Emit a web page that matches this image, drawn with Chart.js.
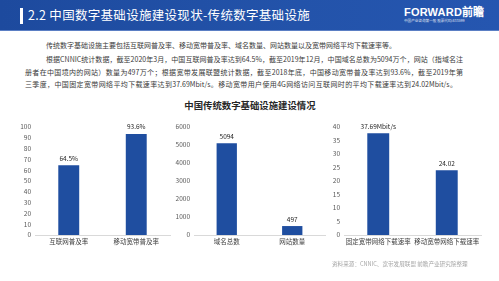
<!DOCTYPE html>
<html lang="zh-CN">
<head>
<meta charset="utf-8">
<title>中国传统数字基础设施建设情况</title>
<script src="https://cdn.jsdelivr.net/npm/chart.js"></script>
<style>
  html, body { margin: 0; padding: 0; background: #fff; }
  body { width: 499px; height: 281px; position: relative; overflow: hidden;
         font-family: "Noto Sans CJK SC", "Noto Sans", sans-serif; }
  .header { position: absolute; left: 0; top: 0; width: 499px; height: 30px;
            background: linear-gradient(90deg, #1d4a9e 0%, #2353aa 60%, #2556b0 100%);
            border-bottom: 1px solid #5b7fc4; }
  .header .mark { position: absolute; left: 20px; top: 8px; width: 3px; height: 16px; background: #fff; }
  .header .title { position: absolute; left: 28px; top: 6px; color: #fff; font-size: 12.5px;
                   line-height: 18px; letter-spacing: 0.3px; white-space: nowrap; }
  .logo { position: absolute; left: 404px; top: 6px; color: #fff; font-family: "Liberation Sans", sans-serif;
          font-weight: bold; font-size: 11px; line-height: 12px; letter-spacing: 0.2px; white-space: nowrap; }
  .logo small { display: block; font-family: "Noto Sans CJK SC", sans-serif; font-weight: normal;
                font-size: 3.6px; line-height: 6px; letter-spacing: 0; opacity: 0.85; }
  .line { position: absolute; font-size: 7px; line-height: 10px; color: #3a3a3a;
          white-space: nowrap; text-align: justify; text-align-last: justify; }
  .heading { position: absolute; left: 150px; top: 98px; width: 200px; text-align: center;
             font-size: 9.4px; font-weight: bold; color: #262626; line-height: 14px; }
  canvas { position: absolute; }
  .source { position: absolute; left: 332px; top: 260px; font-size: 5.6px; color: #a6a6a6;
            white-space: nowrap; line-height: 8px; }
</style>
</head>
<body>
<div class="header">
  <div class="mark"></div>
  <div class="title">2.2 中国数字基础设施建设现状-传统数字基础设施</div>
</div>
<div class="logo">FORWARD前瞻<small>中国产业咨询第一股 股票代码:833599</small></div>

<div class="line" style="left:46px; top:40px; width:287px;">传统数字基础设施主要包括互联网普及率、移动宽带普及率、域名数量、网站数量以及宽带网络平均下载速率等。</div>
<div class="line" style="left:46px; top:54px; width:417px;">根据CNNIC统计数据，截至2020年3月，中国互联网普及率达到64.5%，截至2019年12月，中国域名总数为5094万个，网站（指域名注</div>
<div class="line" style="left:25px; top:67px; width:438px;">册者在中国境内的网站）数量为497万个；根据宽带发展联盟统计数据，截至2018年底，中国移动宽带普及率达到93.6%，截至2019年第</div>
<div class="line" style="left:25px; top:79px; width:432px;">三季度，中国固定宽带网络平均下载速率达到37.69Mbit/s。移动宽带用户使用4G网络访问互联网时的平均下载速率达到24.02Mbit/s。</div>

<div class="heading">中国传统数字基础设施建设情况</div>

<canvas id="penetrationChart" width="175" height="140" style="left:0; top:115px;"></canvas>
<canvas id="domainChart" width="165" height="140" style="left:165px; top:115px;"></canvas>
<canvas id="speedChart" width="169" height="140" style="left:330px; top:115px;"></canvas>

<div class="source">资料来源：CNNIC、宽带发展联盟 前瞻产业研究院整理</div>

<script>
// Internet / mobile broadband penetration (%)
const penetrationLabels = ['互联网普及率', '移动宽带普及率'];
const penetrationValues = [64.5, 93.6];
const penetrationText = ['64.5%', '93.6%'];

// Domain names and websites (10k)
const domainLabels = ['域名总数', '网站数量'];
const domainValues = [5094, 497];
const domainText = ['5094', '497'];

// Average download speed (Mbit/s)
const speedLabels = ['固定宽带网络下载速率', '移动宽带网络下载速率'];
const speedValues = [37.69, 24.02];
const speedText = ['37.69Mbit/s', '24.02'];

const BAR_COLOR = '#1f4ea0';
const FONT = '"Noto Sans CJK SC", "Noto Sans", sans-serif';

// Draws the value text just above each bar
const valueLabels = {
    id: 'valueLabels',
    afterDatasetsDraw(chart) {
        const ctx = chart.ctx;
        const texts = chart.options.plugins.valueLabels.texts;
        const meta = chart.getDatasetMeta(0);
        ctx.save();
        ctx.font = '6.5px ' + FONT;
        ctx.fillStyle = '#262626';
        ctx.textAlign = 'center';
        ctx.textBaseline = 'middle';
        meta.data.forEach((bar, i) => {
            ctx.fillText(texts[i], bar.x, bar.y - 7);
        });
        ctx.restore();
    }
};

function makeBarChart(id, labels, values, texts, yMax, yStep, yWidth, rightPad, barPct) {
    const ctx = document.getElementById(id).getContext('2d');
    return new Chart(ctx, {
        type: 'bar',
        data: {
            labels: labels,
            datasets: [{
                data: values,
                backgroundColor: BAR_COLOR,
                barPercentage: barPct,
                categoryPercentage: 1
            }]
        },
        options: {
            responsive: false,
            animation: false,
            layout: { padding: { top: 12, right: rightPad, left: 0, bottom: 0 } },
            plugins: {
                legend: { display: false },
                tooltip: { enabled: false },
                valueLabels: { texts: texts }
            },
            scales: {
                x: {
                    grid: { display: false, drawTicks: false },
                    border: { display: true, color: '#d9d9d9', width: 1 },
                    ticks: { color: '#404040', font: { size: 6.5, family: FONT }, padding: 3,
                             autoSkip: false, maxRotation: 0 },
                    afterFit(scale) { scale.height = 20; }
                },
                y: {
                    min: 0,
                    max: yMax,
                    grid: { display: false, drawTicks: false },
                    border: { display: false },
                    ticks: { stepSize: yStep, color: '#595959', font: { size: 6.5, family: FONT }, padding: 4,
                             callback: (v) => String(v) },
                    afterFit(scale) { scale.width = yWidth; }
                }
            }
        },
        plugins: [valueLabels]
    });
}

makeBarChart('penetrationChart', penetrationLabels, penetrationValues, penetrationText, 100, 10, 35, 5, 0.31);
makeBarChart('domainChart', domainLabels, domainValues, domainText, 6000, 1000, 29, 5, 0.31);
makeBarChart('speedChart', speedLabels, speedValues, speedText, 40, 5, 14, 18, 0.32);
</script>
</body>
</html>
